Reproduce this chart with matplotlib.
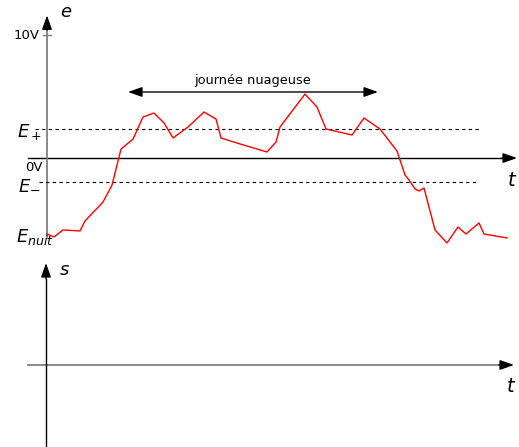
import matplotlib
matplotlib.use('Agg')
import matplotlib.pyplot as plt
from matplotlib.patches import ArrowStyle

# signal e(t), t in arbitrary units, e in volts
t = [0, 0.7, 1.6, 3.3, 3.8, 5.6, 6.5, 7.4, 8.6, 9.6, 10.7, 11.7, 12.6, 14.1,
     15.7, 16.9, 17.4, 19.0, 22.0, 22.9, 23.3, 25.8, 27.0, 27.9, 30.5, 31.7,
     33.3, 35.0, 35.8, 36.2, 36.8, 37.2, 37.7, 38.8, 40.0, 41.1, 41.9, 43.2,
     43.7, 46.0]
e = [-6.18, -6.42, -5.85, -5.93, -5.12, -3.58, -2.20, 0.73, 1.54, 3.33, 3.66,
     2.85, 1.63, 2.52, 3.74, 3.17, 1.63, 1.22, 0.49, 1.30, 2.52, 5.20, 4.15,
     2.36, 1.87, 3.25, 2.36, 0.57, -1.38, -1.79, -2.52, -2.68, -2.44, -5.85,
     -6.91, -5.61, -6.18, -5.28, -6.18, -6.50]
E_plus = 2.32
E_minus = -1.95
E_nuit = -6.3
V_max = 10
cloudy = (8.1, 33.1)

head = ArrowStyle('-|>', head_length=0.85, head_width=0.3)
head2 = ArrowStyle('<|-|>', head_length=0.85, head_width=0.3)
gray = '#808080'

fig = plt.figure(figsize=(5.19, 4.47), dpi=100)
ax = fig.add_axes([0, 197/447, 1, 250/447])
ax2 = fig.add_axes([0, 0, 1, 197/447])
for a in (ax, ax2):
    a.set_xlim(-4.7, 47.2)
    a.axis('off')
ax.set_ylim(-7.48, 12.85)
ax2.set_ylim(-6.67, 9.35)

def arrow(a, x0, y0, x1, y1, color='black', lw=1.0):
    a.annotate('', xy=(x1, y1), xytext=(x0, y0),
               arrowprops=dict(arrowstyle=head, color=color, lw=lw,
                               shrinkA=0, shrinkB=0), annotation_clip=False)

# top: e(t)
ax.plot([-1.9, 46.5], [0, 0], color='black', lw=1.0)
arrow(ax, 45.5, 0, 47.0, 0)
ax.plot([0, 0], [-6.5, 10.5], color=gray, lw=1.3)
arrow(ax, 0, 10.4, 0, 11.6)
ax.plot([-0.4, 0.4], [V_max, V_max], color=gray, lw=1.0)
ax.plot([-1.2, 43.3], [E_plus, E_plus], color='black', lw=0.8, ls=(0, (3, 3)))
ax.plot([-0.8, 43.1], [E_minus, E_minus], color='black', lw=0.8, ls=(0, (3, 3)))
ax.plot(t, e, color='red', lw=1.0)

ax.annotate('', xy=(cloudy[0], 5.37), xytext=(cloudy[1], 5.37),
            arrowprops=dict(arrowstyle=head2, color='black', lw=1.0,
                            shrinkA=0, shrinkB=0))
ax.text(sum(cloudy) / 2, 6.3, 'journée nuageuse', ha='center', va='center', fontsize=9.3)

ax.text(1.9, 11.87, 'e', style='italic', fontsize=13, ha='center', va='center')
ax.text(-0.7, V_max, '10V', fontsize=9.5, ha='right', va='center')
ax.text(-3.0, 2.1, r'$E_+$', fontsize=13, ha='left', va='center')
ax.text(-2.2, -0.81, '0V', fontsize=9.5, ha='left', va='center')
ax.text(-2.9, -2.1, r'$E_{\mathrm{-}}$', fontsize=13, ha='left', va='center')
ax.text(-3.1, -6.42, r'$E_{nuit}$', fontsize=13, ha='left', va='center')
ax.text(46.5, -1.79, 't', style='italic', fontsize=14, ha='center', va='center')

# bottom: s(t)
ax2.plot([-1.9, 45.7], [0, 0], color=gray, lw=1.3)
arrow(ax2, 45.2, 0, 46.7, 0)
ax2.plot([-0.1, -0.1], [-6.67, 7.0], color='black', lw=1.0)
arrow(ax2, -0.1, 7.0, -0.1, 8.29)
ax2.text(1.7, 7.72, 's', style='italic', fontsize=13, ha='center', va='center')
ax2.text(46.4, -1.79, 't', style='italic', fontsize=14, ha='center', va='center')

fig.savefig('out.png', dpi=100)
